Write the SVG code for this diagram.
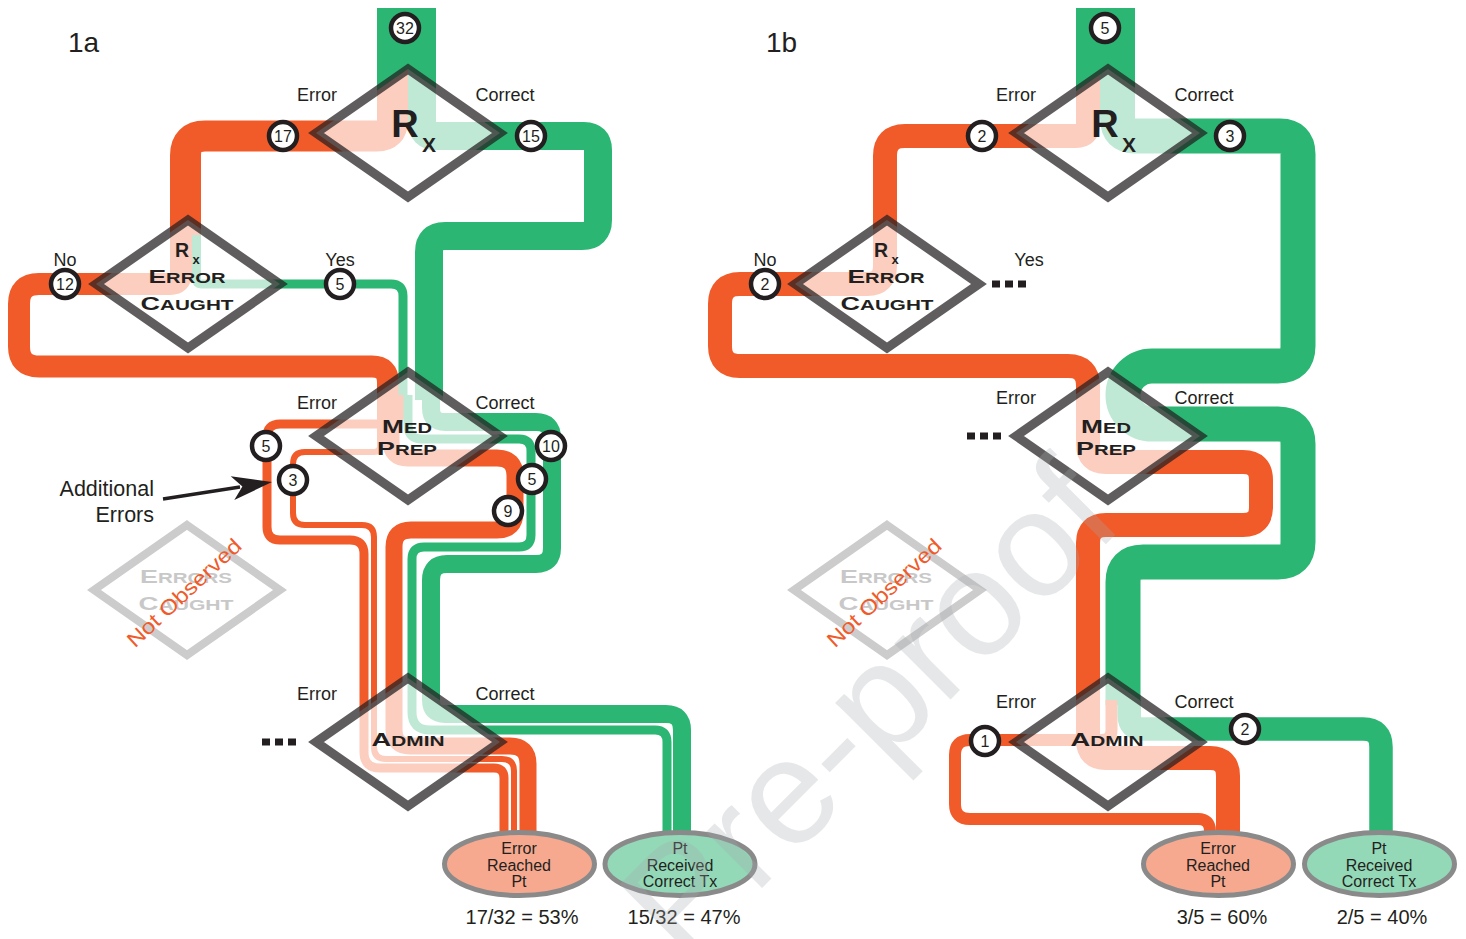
<svg xmlns="http://www.w3.org/2000/svg" width="1466" height="939" viewBox="0 0 1466 939">
<style>
.or{fill:none;stroke:#F15A29}
.gr{fill:none;stroke:#2BB673}
.dia{fill:#fff;fill-opacity:0.7;stroke:#231F20;stroke-opacity:0.72;stroke-width:9}
.gdia{fill:none;stroke:#CCCCCC;stroke-width:8}
.num circle{fill:#fff;stroke:#231F20;stroke-width:4.5}
.num text{font-family:"Liberation Sans Narrow","Liberation Sans",Arial,sans-serif;font-size:16px;fill:#231F20;text-anchor:middle}
.lbl{font-family:"Liberation Sans",Arial,sans-serif;font-size:18px;fill:#231F20;text-anchor:middle}
.node{font-family:"Liberation Sans",Arial,sans-serif;font-weight:bold;fill:#231F20;text-anchor:middle}
.gnode{font-family:"Liberation Sans",Arial,sans-serif;font-weight:bold;fill:#C8C8C8;text-anchor:middle}
.big{font-size:19px}
.sm{font-size:14.5px}
.ell{stroke:#8A8A8A;stroke-width:5}
.etxt{font-family:"Liberation Sans",Arial,sans-serif;font-size:16px;fill:#231F20;text-anchor:middle}
.pct{font-family:"Liberation Sans",Arial,sans-serif;font-size:20px;fill:#231F20;text-anchor:middle}
.dots{stroke:#231F20;stroke-width:7;stroke-dasharray:8 5}
.title{font-family:"Liberation Sans",Arial,sans-serif;font-size:28px;fill:#231F20}
.nobs{font-family:"Liberation Sans",Arial,sans-serif;font-size:21px;fill:#F15A29;text-anchor:middle}
</style>

<g id="connectors">
  <!-- 1a -->
  <path class="or" stroke-width="31" d="M 392.5 8 L 392.5 120.5 Q 392.5 136 377 136 L 205 136 Q 185.5 136 185.5 155.5 L 185.5 250"/>
  <path class="gr" stroke-width="28" d="M 422 8 L 422 122 Q 422 136 436 136 L 584 136 Q 598 136 598 150 L 598 220 Q 598 236 582 236 L 445 236 Q 429 236 429 252 L 429 400"/>
  <path class="or" stroke-width="22" d="M 181 235 L 181 273 Q 181 284 170 284 L 39 284 Q 19 284 19 304 L 19 346.5 Q 19 366.5 39 366.5 L 372 366.5 Q 388 366.5 388 382.5 L 388 420"/>
  <path class="gr" stroke-width="9" d="M 196.5 235 L 196.5 279.5 Q 196.5 284 201 284 L 391 284 Q 403 284 403 296 L 403 400"/>
  <path class="or" stroke-width="9" d="M 400 395 L 400 414 Q 400 424 390 424 L 280 424 Q 267 424 267 437 L 267 527 Q 267 540 280 540 L 350 540 Q 364 540 364 554 L 364 752 Q 364 768 380 768 L 494 768 Q 504 768 504 778 L 504 840"/>
  <path class="or" stroke-width="6" d="M 380 400 L 380 446 Q 380 452 374 452 L 305 452 Q 293 452 293 464 L 293 513 Q 293 525 305 525 L 362 525 Q 374 525 374 537 L 374 747 Q 374 759 386 759 L 502 759 Q 514 759 514 771 L 514 840"/>
  <path class="or" stroke-width="17" d="M 391 400 L 391 441 Q 391 458 408 458 L 497 458 Q 515 458 515 476 L 515 512 Q 515 530 497 530 L 411 530 Q 394 530 394 547 L 394 730 Q 394 746 410 746 L 510 746 Q 528 746 528 764 L 528 840"/>
  <path class="gr" stroke-width="18" d="M 431 390 L 431 408 Q 431 422 445 422 L 536 422 Q 552 422 552 438 L 552 548 Q 552 564 536 564 L 447 564 Q 431 564 431 580 L 431 700 Q 431 714 445 714 L 666 714 Q 682 714 682 730 L 682 840"/>
  <path class="gr" stroke-width="9" d="M 408 395 L 408 425 Q 408 439 422 439 L 519 439 Q 531 439 531 451 L 531 535 Q 531 547 519 547 L 424 547 Q 412 547 412 559 L 412 712 Q 412 730 430 730 L 655 730 Q 667 730 667 742 L 667 840"/>
  <polygon fill="#2BB673" points="377,8 436,8 436,88.5 408,69 377,90.6"/>
  <!-- 1b -->
  <path class="gr" stroke-width="35" d="M 1117.5 8 L 1117.5 118.5 Q 1117.5 136 1135 136 L 1280 136 Q 1298 136 1298 154 L 1298 346 Q 1298 366 1278 366 L 1152 366 A 29 29 0 0 0 1152 424 L 1278 424 Q 1298 424 1298 444 L 1298 542 Q 1298 562 1278 562 L 1143 562 Q 1123 562 1123 582 L 1123 705"/>
  <path class="or" stroke-width="24" d="M 1088 8 L 1088 124 Q 1088 136 1076 136 L 905 136 Q 885 136 885 156 L 885 266 Q 885 284 867 284 L 740 284 Q 720 284 720 304 L 720 346 Q 720 366 740 366 L 1068 366 Q 1088 366 1088 386 L 1088 444 Q 1088 462 1106 462 L 1243 462 Q 1261 462 1261 480 L 1261 507 Q 1261 525 1243 525 L 1106 525 Q 1088 525 1088 543 L 1088 740 Q 1088 758 1106 758 L 1210 758 Q 1228 758 1228 776 L 1228 840"/>
  <path class="or" stroke-width="12" d="M 1111.5 700 L 1111.5 730 Q 1111.5 740 1101.5 740 L 970 740 Q 955 740 955 755 L 955 804 Q 955 819 970 819 L 1198 819 Q 1210 819 1210 831 L 1210 840"/>
  <path class="gr" stroke-width="23.5" d="M 1129.25 700 L 1129.25 715 Q 1129.25 729 1143 729 L 1363 729 Q 1381 729 1381 747 L 1381 840"/>
  <polygon fill="#2BB673" points="1076,8 1135,8 1135,87.8 1108,69 1076,91.3"/>
  <!-- arrow -->
  <line x1="163" y1="499" x2="240" y2="487" stroke="#231F20" stroke-width="3.5"/>
  <polygon fill="#231F20" points="272,482 230.7,476.3 242.4,486.6 234.3,500"/>
  <!-- continuation dots -->
  <line class="dots" x1="262" y1="742" x2="296" y2="742"/>
  <line class="dots" x1="992" y1="284" x2="1026" y2="284"/>
  <line class="dots" x1="967" y1="436" x2="1001" y2="436"/>
</g>

<g id="node-rx-a">
  <path class="dia" d="M 408 69 L 500 133 L 408 197 L 316 133 Z"/>
  <text class="node" x="405" y="137" font-size="38">R</text>
  <text class="node" x="429" y="152" font-size="21">X</text>
</g>
<g id="node-caught-a">
  <path class="dia" d="M 188 220 L 280 284 L 188 348 L 96 284 Z"/>
  <text class="node" x="182" y="257" font-size="19.5">R</text>
  <text class="node" x="196" y="264" font-size="13">x</text>
  <text class="node" x="187" y="283" textLength="77" lengthAdjust="spacingAndGlyphs"><tspan class="big">E</tspan><tspan class="sm">RROR</tspan></text>
  <text class="node" x="187" y="310" textLength="93" lengthAdjust="spacingAndGlyphs"><tspan class="big">C</tspan><tspan class="sm">AUGHT</tspan></text>
</g>
<g id="node-medprep-a">
  <path class="dia" d="M 408 372 L 500 436 L 408 500 L 316 436 Z"/>
  <text class="node" x="407" y="433" textLength="50" lengthAdjust="spacingAndGlyphs"><tspan class="big">M</tspan><tspan class="sm">ED</tspan></text>
  <text class="node" x="407" y="455" textLength="60" lengthAdjust="spacingAndGlyphs"><tspan class="big">P</tspan><tspan class="sm">REP</tspan></text>
</g>
<g id="node-admin-a">
  <path class="dia" d="M 408 678 L 500 742 L 408 806 L 316 742 Z"/>
  <text class="node" x="408" y="746" textLength="73" lengthAdjust="spacingAndGlyphs"><tspan class="big">A</tspan><tspan class="sm">DMIN</tspan></text>
</g>
<g id="node-notobs-a">
  <path class="gdia" d="M 187 525 L 280 590 L 187 655 L 94 590 Z"/>
  <text class="gnode" x="186" y="583" textLength="92" lengthAdjust="spacingAndGlyphs"><tspan class="big">E</tspan><tspan class="sm">RRORS</tspan></text>
  <text class="gnode" x="186" y="610" textLength="95" lengthAdjust="spacingAndGlyphs"><tspan class="big">C</tspan><tspan class="sm">AUGHT</tspan></text>
  <text class="nobs" transform="translate(189,598) rotate(-43)" textLength="148" lengthAdjust="spacingAndGlyphs">Not Observed</text>
</g>

<g id="node-rx-b">
  <path class="dia" d="M 1108 69 L 1200 133 L 1108 197 L 1016 133 Z"/>
  <text class="node" x="1105" y="137" font-size="38">R</text>
  <text class="node" x="1129" y="152" font-size="21">X</text>
</g>
<g id="node-caught-b">
  <path class="dia" d="M 887 220 L 979 284 L 887 348 L 795 284 Z"/>
  <text class="node" x="881" y="257" font-size="19.5">R</text>
  <text class="node" x="895" y="264" font-size="13">x</text>
  <text class="node" x="886" y="283" textLength="77" lengthAdjust="spacingAndGlyphs"><tspan class="big">E</tspan><tspan class="sm">RROR</tspan></text>
  <text class="node" x="887" y="310" textLength="93" lengthAdjust="spacingAndGlyphs"><tspan class="big">C</tspan><tspan class="sm">AUGHT</tspan></text>
</g>
<g id="node-medprep-b">
  <path class="dia" d="M 1108 372 L 1200 436 L 1108 500 L 1016 436 Z"/>
  <text class="node" x="1106" y="433" textLength="50" lengthAdjust="spacingAndGlyphs"><tspan class="big">M</tspan><tspan class="sm">ED</tspan></text>
  <text class="node" x="1106" y="455" textLength="60" lengthAdjust="spacingAndGlyphs"><tspan class="big">P</tspan><tspan class="sm">REP</tspan></text>
</g>
<g id="node-admin-b">
  <path class="dia" d="M 1108 678 L 1200 742 L 1108 806 L 1016 742 Z"/>
  <text class="node" x="1107" y="746" textLength="73" lengthAdjust="spacingAndGlyphs"><tspan class="big">A</tspan><tspan class="sm">DMIN</tspan></text>
</g>
<g id="node-notobs-b">
  <path class="gdia" d="M 887 525 L 980 590 L 887 655 L 794 590 Z"/>
  <text class="gnode" x="886" y="583" textLength="92" lengthAdjust="spacingAndGlyphs"><tspan class="big">E</tspan><tspan class="sm">RRORS</tspan></text>
  <text class="gnode" x="886" y="610" textLength="95" lengthAdjust="spacingAndGlyphs"><tspan class="big">C</tspan><tspan class="sm">AUGHT</tspan></text>
  <text class="nobs" transform="translate(889,598) rotate(-43)" textLength="148" lengthAdjust="spacingAndGlyphs">Not Observed</text>
</g>

<g id="counts">
  <g class="num"><circle cx="405" cy="28" r="14"/><text x="405" y="34">32</text></g>
  <g class="num"><circle cx="283" cy="136" r="14"/><text x="283" y="142">17</text></g>
  <g class="num"><circle cx="531" cy="136" r="14"/><text x="531" y="142">15</text></g>
  <g class="num"><circle cx="65" cy="284" r="14"/><text x="65" y="290">12</text></g>
  <g class="num"><circle cx="340" cy="284" r="14"/><text x="340" y="290">5</text></g>
  <g class="num"><circle cx="266" cy="446" r="14"/><text x="266" y="452">5</text></g>
  <g class="num"><circle cx="293" cy="480" r="14"/><text x="293" y="486">3</text></g>
  <g class="num"><circle cx="551" cy="446" r="14"/><text x="551" y="452">10</text></g>
  <g class="num"><circle cx="532" cy="479" r="14"/><text x="532" y="485">5</text></g>
  <g class="num"><circle cx="508" cy="511" r="14"/><text x="508" y="517">9</text></g>
  <g class="num"><circle cx="1105" cy="28" r="14"/><text x="1105" y="34">5</text></g>
  <g class="num"><circle cx="982" cy="136" r="14"/><text x="982" y="142">2</text></g>
  <g class="num"><circle cx="1230" cy="136" r="14"/><text x="1230" y="142">3</text></g>
  <g class="num"><circle cx="765" cy="284" r="14"/><text x="765" y="290">2</text></g>
  <g class="num"><circle cx="985" cy="741" r="14"/><text x="985" y="747">1</text></g>
  <g class="num"><circle cx="1245" cy="729" r="14"/><text x="1245" y="735">2</text></g>
</g>

<g id="labels">
  <text class="title" x="68" y="52">1a</text>
  <text class="title" x="766" y="52">1b</text>
  <text class="lbl" x="317" y="101">Error</text>
  <text class="lbl" x="505" y="101">Correct</text>
  <text class="lbl" x="65" y="266">No</text>
  <text class="lbl" x="340" y="266">Yes</text>
  <text class="lbl" x="317" y="409">Error</text>
  <text class="lbl" x="505" y="409">Correct</text>
  <text class="lbl" x="317" y="700">Error</text>
  <text class="lbl" x="505" y="700">Correct</text>
  <text class="lbl" x="1016" y="101">Error</text>
  <text class="lbl" x="1204" y="101">Correct</text>
  <text class="lbl" x="765" y="266">No</text>
  <text class="lbl" x="1029" y="266">Yes</text>
  <text class="lbl" x="1016" y="404">Error</text>
  <text class="lbl" x="1204" y="404">Correct</text>
  <text class="lbl" x="1016" y="708">Error</text>
  <text class="lbl" x="1204" y="708">Correct</text>
  <text x="154" y="496" font-family="Liberation Sans, Arial, sans-serif" font-size="21.5" fill="#231F20" text-anchor="end">Additional</text>
  <text x="154" y="522" font-family="Liberation Sans, Arial, sans-serif" font-size="21.5" fill="#231F20" text-anchor="end">Errors</text>
</g>

<g id="outcome-error-a">
  <ellipse class="ell" cx="519.5" cy="864" rx="75" ry="31.5" fill="#F6A98F"/>
  <text class="etxt" x="519" y="854">Error</text>
  <text class="etxt" x="519" y="871">Reached</text>
  <text class="etxt" x="519" y="887">Pt</text>
  <text class="pct" x="522" y="924">17/32 = 53%</text>
</g>
<g id="outcome-correct-a">
  <ellipse class="ell" cx="680" cy="864" rx="75" ry="31.5" fill="#93D9B8"/>
  <text class="etxt" x="680" y="854">Pt</text>
  <text class="etxt" x="680" y="871">Received</text>
  <text class="etxt" x="680" y="887">Correct Tx</text>
  <text class="pct" x="684" y="924">15/32 = 47%</text>
</g>
<g id="outcome-error-b">
  <ellipse class="ell" cx="1218.5" cy="864" rx="75" ry="31.5" fill="#F6A98F"/>
  <text class="etxt" x="1218" y="854">Error</text>
  <text class="etxt" x="1218" y="871">Reached</text>
  <text class="etxt" x="1218" y="887">Pt</text>
  <text class="pct" x="1222" y="924">3/5 = 60%</text>
</g>
<g id="outcome-correct-b">
  <ellipse class="ell" cx="1379.5" cy="864" rx="75" ry="31.5" fill="#93D9B8"/>
  <text class="etxt" x="1379" y="854">Pt</text>
  <text class="etxt" x="1379" y="871">Received</text>
  <text class="etxt" x="1379" y="887">Correct Tx</text>
  <text class="pct" x="1382" y="924">2/5 = 40%</text>
</g>

<text transform="translate(905,745) rotate(-45)" text-anchor="middle" font-family="Liberation Sans, Arial, sans-serif" font-size="150" fill="#A7A9AC" fill-opacity="0.28">Pre-proof</text>
</svg>
